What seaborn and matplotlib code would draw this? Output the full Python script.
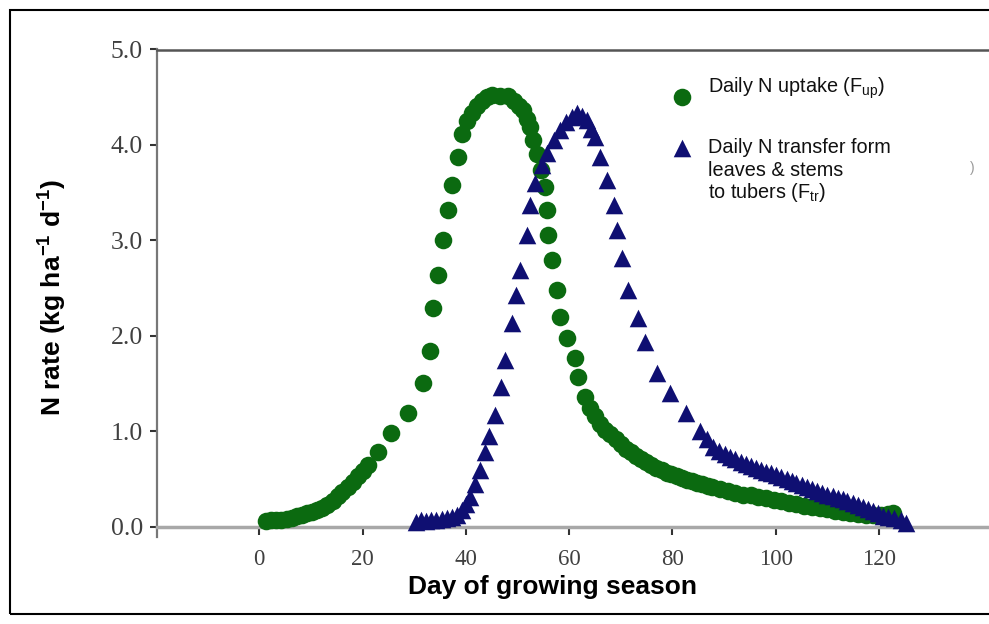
import matplotlib
matplotlib.use("Agg")
import matplotlib.pyplot as plt
from matplotlib.patches import Rectangle
import seaborn as sns
import pandas as pd

# ---- data ----
green_day = [1.3, 2.3, 3.3, 4.3, 5.3, 6.3, 7.3, 8.2, 9.2, 10.2, 11.2, 12.2, 13.2, 14.2, 15.2,
             16.1, 17.1, 18.1, 19.1, 20.1, 21.1, 23.0, 25.5, 28.8, 31.8, 33.0, 33.7, 34.7, 35.6,
             36.6, 37.3, 38.5, 39.2, 40.2, 41.1, 42.1, 43.1, 44.1, 45.0, 46.6, 48.1, 49.3, 50.3,
             51.1, 51.9, 52.4, 53.1, 53.7, 54.5, 55.4, 55.7, 56.0, 56.6, 57.6, 58.2, 59.6, 61.1,
             61.8, 63.1, 64.0, 65.0, 66.0, 67.0, 68.0, 69.0, 70.0, 71.0, 72.0, 73.0, 73.9, 74.9,
             75.9, 76.9, 77.9, 78.9, 79.8, 80.8, 81.8, 82.8, 83.8, 84.8, 85.8, 86.8, 87.7, 89.2,
             90.7, 92.2, 93.7, 95.2, 96.6, 98.1, 99.6, 101.1, 102.6, 104.0, 105.5, 107.0, 108.5,
             110.0, 111.5, 113.0, 114.4, 115.9, 117.4, 118.9, 120.3, 121.8, 122.8]
green_rate = [0.06, 0.07, 0.07, 0.07, 0.08, 0.09, 0.11, 0.13, 0.15, 0.16, 0.18, 0.20, 0.23, 0.27,
              0.32, 0.37, 0.42, 0.47, 0.53, 0.59, 0.65, 0.79, 0.98, 1.19, 1.51, 1.84, 2.29, 2.64,
              3.01, 3.32, 3.58, 3.87, 4.12, 4.25, 4.34, 4.41, 4.46, 4.50, 4.52, 4.51, 4.51, 4.46,
              4.41, 4.37, 4.27, 4.19, 4.05, 3.91, 3.74, 3.56, 3.32, 3.06, 2.80, 2.48, 2.20, 1.98,
              1.77, 1.57, 1.36, 1.25, 1.16, 1.08, 1.02, 0.97, 0.92, 0.87, 0.82, 0.78, 0.74, 0.71,
              0.68, 0.65, 0.62, 0.60, 0.57, 0.55, 0.53, 0.51, 0.49, 0.48, 0.46, 0.45, 0.43, 0.42,
              0.40, 0.38, 0.36, 0.34, 0.33, 0.31, 0.30, 0.28, 0.27, 0.25, 0.24, 0.22, 0.21, 0.20,
              0.19, 0.17, 0.16, 0.15, 0.14, 0.13, 0.13, 0.13, 0.14, 0.15]

blue_day = [30.3, 31.3, 32.3, 33.3, 34.3, 35.3, 36.3, 37.3, 38.3, 39.2, 40.0, 40.8, 41.8, 42.7,
            43.7, 44.5, 45.6, 46.9, 47.6, 48.9, 49.8, 50.5, 51.8, 52.4, 53.4, 54.7, 55.7, 57.0,
            58.2, 59.4, 60.5, 61.5, 62.5, 63.4, 64.2, 65.0, 66.0, 67.3, 68.6, 69.3, 70.2, 71.4,
            73.3, 74.7, 77.0, 79.6, 82.7, 85.4, 86.7, 87.9, 89.0, 90.2, 91.2, 92.2, 93.2, 94.2,
            95.2, 96.1, 97.1, 98.1, 99.1, 100.1, 101.1, 102.1, 103.1, 104.0, 105.0, 106.0, 107.0,
            108.0, 109.0, 110.0, 111.0, 112.0, 113.0, 113.9, 114.9, 115.9, 116.9, 117.9, 118.9,
            119.8, 120.8, 121.8, 123.0, 124.2, 125.3]
blue_rate = [0.05, 0.07, 0.06, 0.07, 0.07, 0.08, 0.09, 0.10, 0.13, 0.18, 0.24, 0.31, 0.45, 0.60,
             0.78, 0.95, 1.17, 1.47, 1.75, 2.14, 2.43, 2.69, 3.06, 3.37, 3.60, 3.79, 3.92, 4.05,
             4.16, 4.24, 4.29, 4.33, 4.30, 4.26, 4.17, 4.08, 3.87, 3.63, 3.37, 3.11, 2.82, 2.48,
             2.19, 1.94, 1.61, 1.40, 1.19, 1.00, 0.92, 0.84, 0.80, 0.76, 0.73, 0.71, 0.68, 0.66,
             0.64, 0.62, 0.60, 0.58, 0.56, 0.54, 0.52, 0.50, 0.48, 0.46, 0.44, 0.42, 0.40, 0.38,
             0.36, 0.34, 0.32, 0.30, 0.29, 0.27, 0.25, 0.23, 0.21, 0.19, 0.17, 0.15, 0.12, 0.10,
             0.09, 0.07, 0.04]

x_ticks = [0, 20, 40, 60, 80, 100, 120]
y_ticks = [0.0, 1.0, 2.0, 3.0, 4.0, 5.0]
label_up = "Daily N uptake (F$_{\\mathregular{up}}$)"
label_tr_lines = ["Daily N transfer form", "leaves & stems",
                  "to tubers (F$_{\\mathregular{tr}}$)"]
x_title = "Day of growing season"
y_title = "N rate (kg ha$^{\\mathregular{-1}}$ d$^{\\mathregular{-1}}$)"

GREEN = "#0b6a10"
BLUE = "#0f0f72"

sns.set_style("white")
plt.rcParams["font.family"] = ["Liberation Sans", "DejaVu Sans"]
plt.rcParams["mathtext.default"] = "regular"

fig = plt.figure(figsize=(9.89, 6.24), dpi=100)
ax = fig.add_axes([157 / 989, 87 / 624, 832 / 989, 487.5 / 624])

df_up = pd.DataFrame({"day": green_day, "rate": green_rate})
df_tr = pd.DataFrame({"day": blue_day, "rate": blue_rate})
sns.scatterplot(data=df_up, x="day", y="rate", ax=ax, marker="o", s=160,
                color=GREEN, linewidth=0, zorder=3)
sns.scatterplot(data=df_tr, x="day", y="rate", ax=ax, marker="^", s=160,
                color=BLUE, linewidth=0, zorder=4)

ax.spines["bottom"].set_position(("data", 0))
ax.spines["bottom"].set_color("#a8a8a8")
ax.spines["bottom"].set_linewidth(2.5)
ax.spines["left"].set_color("#777777")
ax.spines["left"].set_linewidth(1.6)
ax.spines["top"].set_color("#555555")
ax.spines["top"].set_linewidth(1.8)
ax.spines["right"].set_visible(False)

ax.set_xlim(-19.8, 141.3)
ax.set_ylim(-0.105, 5.0)
ax.set_xticks(x_ticks)
ax.set_xticklabels([str(t) for t in x_ticks])
ax.set_yticks(y_ticks)
ax.set_yticklabels([f"{t:.1f}" for t in y_ticks])

ax.tick_params(axis="both", labelfontfamily="Liberation Serif", labelcolor="#404040")
ax.tick_params(axis="x", direction="out", length=6, width=1.5, color="#333333", pad=10,
               bottom=True, labelsize=16.5)
ax.tick_params(axis="y", direction="out", length=5, width=1.5, color="#333333", pad=5,
               left=True, labelsize=18.5)

ax.set_xlabel(x_title, fontsize=19, fontweight="bold", color="black")
ax.xaxis.set_label_coords(0.475, -0.078)
ax.set_ylabel(y_title, fontsize=19, fontweight="bold", color="black")
ax.yaxis.set_label_coords(-0.106, 0.49)

# legend keys and texts
ax.scatter([0.631], [0.9026], transform=ax.transAxes, marker="o", s=160, color=GREEN,
           linewidth=0, clip_on=False, zorder=5)
ax.scatter([0.631], [0.798], transform=ax.transAxes, marker="^", s=160, color=BLUE,
           linewidth=0, clip_on=False, zorder=5)
fig.text(708 / 989, 1 - 93 / 624, label_up, fontsize=14.3, va="baseline", ha="left",
         color="#111111")
for i, line in enumerate(label_tr_lines):
    fig.text(708 / 989, 1 - (153 + 22.5 * i) / 624, line, fontsize=14.3, va="baseline",
             ha="left", color="#111111")
fig.text(970 / 989, 1 - 172 / 624, ")", fontsize=10, color="#999999")

# outer frame
fig.patches.append(Rectangle((10 / 989, 10 / 624), 1.2, 604 / 624, transform=fig.transFigure,
                             fill=False, edgecolor="black", linewidth=1.5, zorder=10))

fig.savefig("out.png", dpi=100)
